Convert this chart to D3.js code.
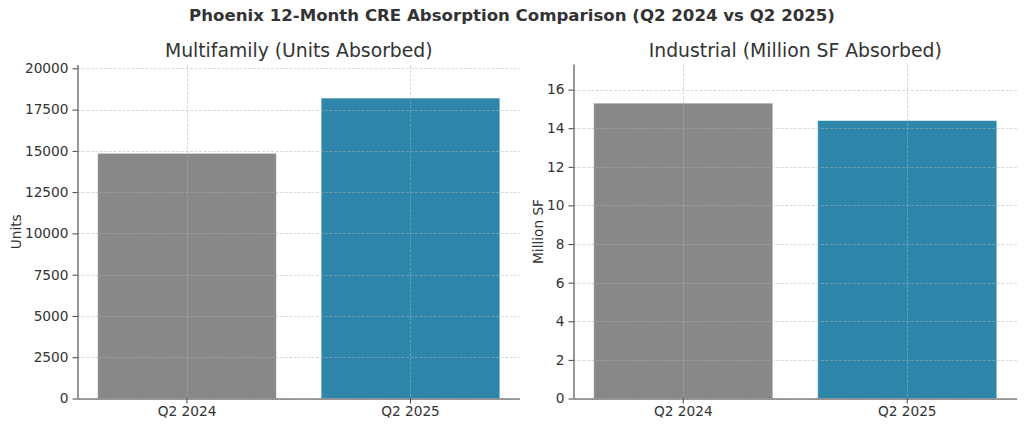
<!DOCTYPE html>
<html>
<head>
<meta charset="utf-8">
<script src="https://cdn.jsdelivr.net/npm/d3@7"></script>
<style>
  html, body { margin: 0; padding: 0; background: #fff; }
  svg { display: block; font-family: "DejaVu Sans", sans-serif; }
</style>
</head>
<body>
<svg id="chart" width="1024" height="426"></svg>
<script>
// ---- data ----
const categories = ["Q2 2024", "Q2 2025"];
const multifamilyUnits = [14850, 18200];
const industrialMSF = [15.3, 14.4];
const barColors = ["#888888", "#2E86AB"];
const multifamilyTicks = [0, 2500, 5000, 7500, 10000, 12500, 15000, 17500, 20000];
const industrialTicks = [0, 2, 4, 6, 8, 10, 12, 14, 16];
const chartTitle = "Phoenix 12-Month CRE Absorption Comparison (Q2 2024 vs Q2 2025)";
const panelTitles = ["Multifamily (Units Absorbed)", "Industrial (Million SF Absorbed)"];
const yLabels = ["Units", "Million SF"];

const svg = d3.select("#chart");
const textColor = "#333333";

svg.append("text")
  .attr("x", 512).attr("y", 21)
  .attr("text-anchor", "middle")
  .attr("font-size", 16.6).attr("font-weight", "bold")
  .attr("fill", textColor)
  .text(chartTitle);

function panel(cfg) {
  const { left, right, top, bottom, values, ymax, ticks, title, ylabel, ylabelX } = cfg;
  const g = svg.append("g");
  const x = d3.scaleBand().domain(categories).range([left, right])
    .paddingInner(0.2).paddingOuter(0.09);
  const y = d3.scaleLinear().domain([0, ymax]).range([bottom, top]);

  // bars
  g.selectAll("rect.bar").data(values).join("rect")
    .attr("class", "bar")
    .attr("x", (d, i) => x(categories[i]))
    .attr("width", x.bandwidth())
    .attr("y", d => y(d))
    .attr("height", d => bottom - y(d))
    .attr("fill", (d, i) => barColors[i])
    .attr("stroke", "#ffffff").attr("stroke-opacity", 0.55).attr("stroke-width", 1);

  // grid (drawn over bars)
  const grid = g.append("g").attr("stroke", "#b0b0b0").attr("stroke-opacity", 0.6)
    .attr("stroke-width", 0.8).attr("stroke-dasharray", "3,1.5");
  grid.selectAll("line.h").data(ticks).join("line")
    .attr("x1", left).attr("x2", right)
    .attr("y1", d => Math.round(y(d)) + 0.5).attr("y2", d => Math.round(y(d)) + 0.5);
  grid.selectAll("line.v").data(categories).join("line")
    .attr("x1", d => Math.round(x(d) + x.bandwidth() / 2) + 0.5)
    .attr("x2", d => Math.round(x(d) + x.bandwidth() / 2) + 0.5)
    .attr("y1", top).attr("y2", bottom);

  // axes
  const yAxis = d3.axisLeft(y).tickValues(ticks).tickSize(5).tickPadding(4)
    .tickFormat(d3.format("d"));
  const ya = g.append("g").attr("transform", `translate(${left},0)`).call(yAxis);
  const xAxis = d3.axisBottom(x).tickSize(5).tickPadding(3);
  const xa = g.append("g").attr("transform", `translate(0,${bottom})`).call(xAxis);
  [ya, xa].forEach(a => {
    a.select(".domain").attr("stroke", "#444").attr("stroke-width", 1.1);
    a.selectAll(".tick line").attr("stroke", "#444");
    a.selectAll(".tick text").attr("font-size", 13.7).attr("fill", textColor)
      .attr("font-family", "DejaVu Sans, sans-serif");
  });
  ya.select(".domain").attr("d", `M0.5,${top}V${bottom}`);
  xa.select(".domain").attr("d", `M${left},0.5H${right}`);

  // titles
  g.append("text").attr("x", (left + right) / 2).attr("y", top - 8)
    .attr("text-anchor", "middle").attr("font-size", 18.8).attr("fill", textColor)
    .text(title);
  g.append("text")
    .attr("transform", `translate(${ylabelX},${(top + bottom) / 2}) rotate(-90)`)
    .attr("text-anchor", "middle").attr("font-size", 13.7).attr("fill", textColor)
    .text(ylabel);
}

panel({ left: 77.5, right: 520, top: 65, bottom: 398.5, values: multifamilyUnits,
  ymax: 20200, ticks: multifamilyTicks, title: panelTitles[0], ylabel: yLabels[0], ylabelX: 21 });
panel({ left: 573.5, right: 1017, top: 64.5, bottom: 398.5, values: industrialMSF,
  ymax: 17.3, ticks: industrialTicks, title: panelTitles[1], ylabel: yLabels[1], ylabelX: 543 });
</script>
</body>
</html>
